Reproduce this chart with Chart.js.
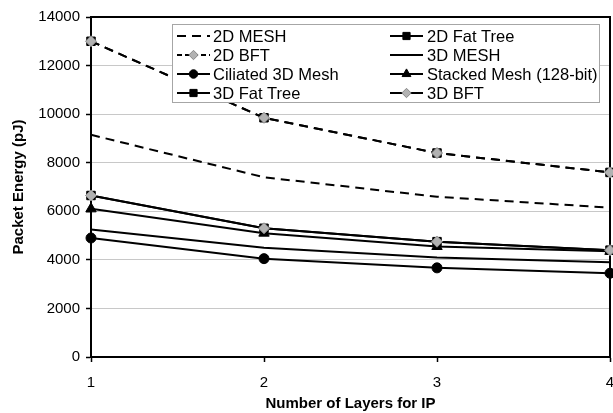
<!DOCTYPE html>
<html><head><meta charset="utf-8">
<script src="https://cdn.jsdelivr.net/npm/chart.js@4"></script>
<style>html,body{margin:0;padding:0;background:#fff}</style>
</head><body>
<canvas id="c" width="613" height="413" style="width:613px;height:413px;display:block"></canvas>
<script>
// ---- data ----
const layers = [1, 2, 3, 4];
const yMin = 0, yMax = 14000, yStep = 2000;
const seriesNames = ["2D MESH","2D Fat Tree","2D BFT","3D MESH","Ciliated 3D Mesh","Stacked Mesh (128-bit)","3D Fat Tree","3D BFT"];
const mesh2D      = [9150, 7400, 6600, 6150];
const fatTree2D   = [13000, 9850, 8400, 7600];
const bft2D       = [13000, 9850, 8400, 7600];
const mesh3D      = [5250, 4500, 4100, 3900];
const ciliated3D  = [4900, 4050, 3670, 3450];
const stacked128  = [6100, 5100, 4550, 4350];
const fatTree3D   = [6650, 5300, 4750, 4400];
const bft3D       = [6650, 5300, 4750, 4400];
const xTitle = "Number of Layers for IP";
const yTitle = "Packet Energy (pJ)";

const FONT = "'Liberation Sans', Arial, sans-serif";
const pts = vals => vals.map((v, i) => ({x: layers[i], y: v}));
const DASH = [9, 6];
const GRAY = '#b2b2b2';

function ds(label, vals, o) {
  return Object.assign({
    label, data: pts(vals), borderColor: '#000', borderWidth: 2,
    backgroundColor: '#000', pointBorderColor: '#000', pointBackgroundColor: '#000',
    pointRadius: 0, pointBorderWidth: 1, tension: 0, order: 1, clip: false,
    borderDash: [], legendDash: null
  }, o);
}

const datasets = [
  ds(seriesNames[0], mesh2D, {borderDash: DASH}),
  ds(seriesNames[1], fatTree2D, {borderDash: DASH, legendDash: [], pointStyle: 'rect', pointRadius: 6}),
  ds(seriesNames[2], bft2D, {borderDash: DASH, legendDash: [5,3], pointStyle: 'rectRot', pointRadius: 5.5, pointBackgroundColor: GRAY, pointBorderColor: '#8a8a8a', order: 0}),
  ds(seriesNames[3], mesh3D, {}),
  ds(seriesNames[4], ciliated3D, {pointStyle: 'circle', pointRadius: 5}),
  ds(seriesNames[5], stacked128, {pointStyle: 'triangle', pointRadius: 6}),
  ds(seriesNames[6], fatTree3D, {pointStyle: 'rect', pointRadius: 6}),
  ds(seriesNames[7], bft3D, {pointStyle: 'rectRot', pointRadius: 5.5, pointBackgroundColor: GRAY, pointBorderColor: '#8a8a8a', order: 0})
];

const frame = {
  id: 'frame',
  beforeDatasetsDraw(chart) {
    const {ctx, chartArea: a} = chart;
    ctx.save();
    ctx.strokeStyle = '#000'; ctx.lineWidth = 2;
    ctx.strokeRect(a.left, a.top, a.right - a.left, a.bottom - a.top);
    ctx.restore();
  }
};

const legendBox = {
  id: 'legendBox',
  afterDraw(chart) {
    const ctx = chart.ctx;
    const bx = 172.5, by = 24.5, bw = 427, bh = 78;
    ctx.save();
    ctx.fillStyle = '#fff'; ctx.fillRect(bx, by, bw, bh);
    ctx.strokeStyle = '#a6a6a6'; ctx.lineWidth = 1; ctx.strokeRect(bx, by, bw, bh);
    const cols = [{x0: 177, x1: 210, tx: 213}, {x0: 390, x1: 423, tx: 427}];
    const rows = [36, 55, 74, 93];
    ctx.font = '16.5px ' + FONT; ctx.textBaseline = 'middle'; ctx.fillStyle = '#000';
    chart.data.datasets.forEach((d, i) => {
      const c = cols[i % 2], y = rows[Math.floor(i / 2)];
      ctx.save();
      ctx.strokeStyle = '#000'; ctx.lineWidth = 2;
      ctx.setLineDash(d.legendDash || d.borderDash || []);
      ctx.beginPath(); ctx.moveTo(c.x0, y); ctx.lineTo(c.x1, y); ctx.stroke();
      ctx.setLineDash([]);
      if (d.pointRadius > 0) {
        ctx.fillStyle = d.pointBackgroundColor; ctx.strokeStyle = d.pointBorderColor; ctx.lineWidth = 1;
        Chart.helpers.drawPoint(ctx, {pointStyle: d.pointStyle, radius: d.pointRadius * 0.85, rotation: 0, borderWidth: 1}, (c.x0 + c.x1) / 2, y);
      }
      ctx.restore();
      ctx.fillStyle = '#000';
      ctx.fillText(d.label, c.tx, y + 1);
    });
    ctx.restore();
  }
};

new Chart(document.getElementById('c'), {
  type: 'line',
  data: {datasets},
  options: {
    responsive: false, animation: false, devicePixelRatio: 1,
    layout: {autoPadding: false, padding: {top: 17, right: 3, left: 0, bottom: 0}},
    plugins: {legend: {display: false}, tooltip: {enabled: false}},
    scales: {
      x: {
        type: 'linear', min: 1, max: 4,
        ticks: {stepSize: 1, color: '#000', font: {family: FONT, size: 15}, padding: 12, callback: v => String(v)},
        grid: {drawOnChartArea: false, tickLength: 5, tickColor: '#000', tickWidth: 1.5},
        border: {color: '#000', width: 2},
        title: {display: true, text: xTitle, color: '#000', font: {family: FONT, size: 15, weight: 'bold'}, padding: {top: 0, bottom: 0}},
        afterFit(s) { s.height = 56; s.paddingLeft = 0; s.paddingRight = 0; }
      },
      y: {
        min: yMin, max: yMax,
        ticks: {stepSize: yStep, color: '#000', font: {family: FONT, size: 15}, padding: 6, callback: v => String(v)},
        grid: {color: '#c8c8c8', lineWidth: 1, tickLength: 5, tickColor: '#000', tickWidth: 1.5},
        border: {color: '#000', width: 2},
        title: {display: true, text: yTitle, color: '#000', font: {family: FONT, size: 15, weight: 'bold'}, padding: {top: 10, bottom: 0}},
        afterFit(s) { s.width = 91; s.paddingTop = 0; s.paddingBottom = 0; }
      }
    }
  },
  plugins: [frame, legendBox]
});
</script>
</body></html>
